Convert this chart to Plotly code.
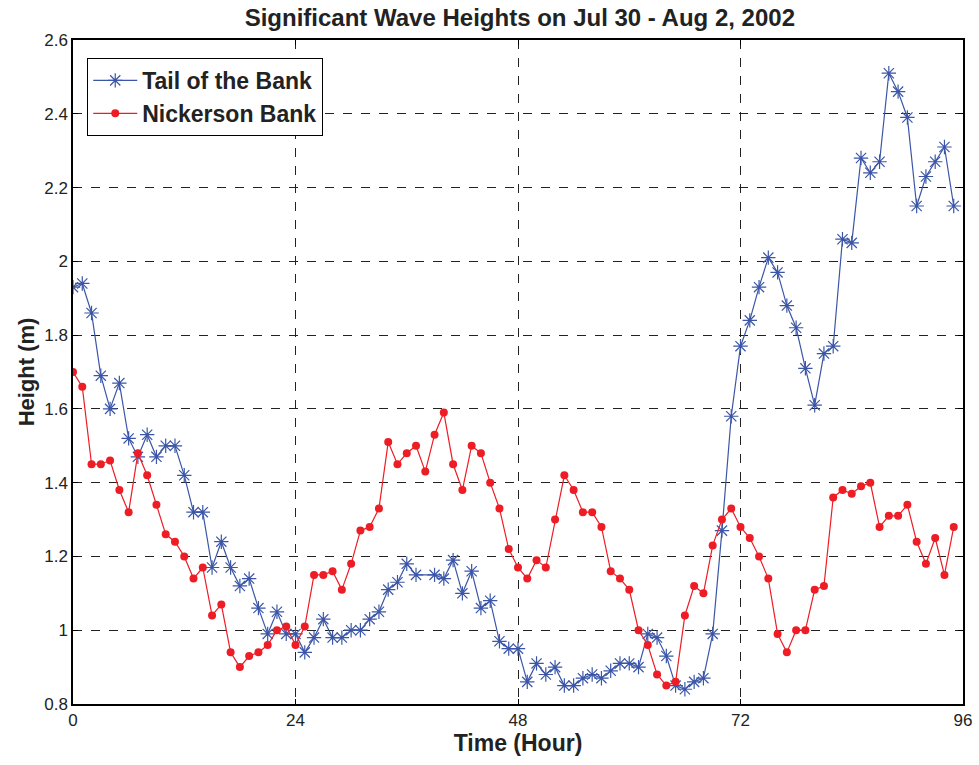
import plotly.graph_objects as go

# Hourly significant wave height, Jul 30 - Aug 2, 2002
tail_hours = [h for h in range(96) if h != 38]  # no record at hour 38
tail_heights = [
    1.93, 1.94, 1.86, 1.69, 1.60, 1.67, 1.52, 1.47, 1.53, 1.47,
    1.50, 1.50, 1.42, 1.32, 1.32, 1.17, 1.24, 1.17, 1.12, 1.14,
    1.06, 0.99, 1.05, 0.99, 0.99, 0.94, 0.98, 1.03, 0.98, 0.98,
    1.00, 1.00, 1.03, 1.05, 1.11, 1.13, 1.18, 1.15, 1.15,
    1.14, 1.19, 1.10, 1.16, 1.06, 1.08, 0.97, 0.95, 0.95, 0.86,
    0.91, 0.88, 0.90, 0.85, 0.85, 0.87, 0.88, 0.87, 0.89, 0.91,
    0.91, 0.90, 0.99, 0.98, 0.93, 0.85, 0.84, 0.86, 0.87, 0.99,
    1.27, 1.58, 1.77, 1.84, 1.93, 2.01, 1.97, 1.88, 1.82, 1.71,
    1.61, 1.75, 1.77, 2.06, 2.05, 2.28, 2.24, 2.27, 2.51, 2.46,
    2.39, 2.15, 2.23, 2.27, 2.31, 2.15,
]

nick_hours = list(range(96))
nick_heights = [
    1.70, 1.66, 1.45, 1.45, 1.46, 1.38, 1.32, 1.48, 1.42, 1.34,
    1.26, 1.24, 1.20, 1.14, 1.17, 1.04, 1.07, 0.94, 0.90, 0.93,
    0.94, 0.96, 1.00, 1.01, 0.96, 1.01, 1.15, 1.15, 1.16, 1.11,
    1.18, 1.27, 1.28, 1.33, 1.51, 1.45, 1.48, 1.50, 1.43, 1.53,
    1.59, 1.45, 1.38, 1.50, 1.48, 1.40, 1.33, 1.22, 1.17, 1.14,
    1.19, 1.17, 1.30, 1.42, 1.38, 1.32, 1.32, 1.28, 1.16, 1.14,
    1.11, 1.00, 0.96, 0.88, 0.85, 0.86, 1.04, 1.12, 1.10, 1.23,
    1.30, 1.33, 1.28, 1.25, 1.20, 1.14, 0.99, 0.94, 1.00, 1.00,
    1.11, 1.12, 1.36, 1.38, 1.37, 1.39, 1.40, 1.28, 1.31, 1.31,
    1.34, 1.24, 1.18, 1.25, 1.15, 1.28,
]

x_ticks = [0, 24, 48, 72, 96]
y_ticks = [0.8, 1.0, 1.2, 1.4, 1.6, 1.8, 2.0, 2.2, 2.4, 2.6]
y_tick_text = ["0.8", "1", "1.2", "1.4", "1.6", "1.8", "2", "2.2", "2.4", "2.6"]

BLUE = "#3b56a8"
RED = "#ee1c25"
INK = "#222222"
FONT = "Liberation Sans, Arial, sans-serif"

fig = go.Figure()
fig.add_trace(go.Scatter(
    x=tail_hours, y=tail_heights, mode="lines+markers", name="Tail of the Bank",
    line=dict(color=BLUE, width=1.2),
    marker=dict(symbol="asterisk", size=12, color=BLUE, line=dict(color=BLUE, width=1.2)),
))
fig.add_trace(go.Scatter(
    x=nick_hours, y=nick_heights, mode="lines+markers", name="Nickerson Bank",
    line=dict(color=RED, width=1.2),
    marker=dict(symbol="circle", size=8, color=RED),
))

axis_common = dict(
    showline=True, linecolor="black", linewidth=1.5, mirror="ticks",
    ticks="inside", ticklen=5, tickcolor="black",
    showgrid=True, gridcolor=INK, griddash="dash", gridwidth=1,
    zeroline=False, tickfont=dict(family=FONT, size=17, color=INK),
    automargin=False,
)

fig.update_xaxes(
    range=[0, 96], tickvals=x_ticks, ticktext=[str(v) for v in x_ticks],
    title=dict(text="<b>Time (Hour)</b>", font=dict(family=FONT, size=23, color=INK), standoff=4),
    **axis_common,
)
fig.update_yaxes(
    range=[0.8, 2.6], tickvals=y_ticks, ticktext=y_tick_text,
    title=dict(text="<b>Height (m)</b>", font=dict(family=FONT, size=22, color=INK), standoff=4),
    **axis_common,
)

fig.update_layout(
    width=979, height=765,
    margin=dict(l=73, r=16, t=40, b=61),
    paper_bgcolor="white", plot_bgcolor="white",
    title=dict(
        text="<b>Significant Wave Heights on Jul 30 - Aug 2, 2002</b>",
        font=dict(family=FONT, size=24, color=INK),
        x=0.531, xanchor="center", y=0.977, yanchor="middle",
    ),
    legend=dict(
        x=0.016, y=0.973, xanchor="left", yanchor="top",
        bgcolor="white", bordercolor="black", borderwidth=1,
        font=dict(family=FONT, size=23, color=INK, weight="bold"),
        itemwidth=44, tracegroupgap=0,
    ),
    showlegend=True,
)

fig.write_html("out.html")
